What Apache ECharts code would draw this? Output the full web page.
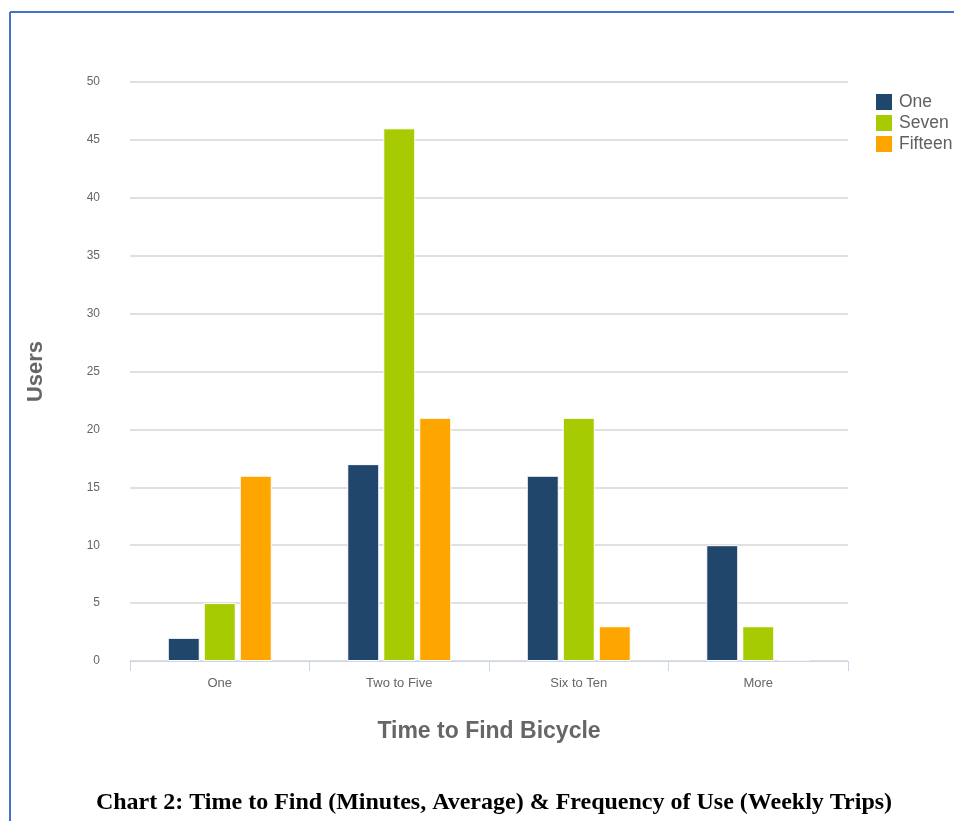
<!DOCTYPE html>
<html>
<head>
<meta charset="utf-8">
<script src="https://cdn.jsdelivr.net/npm/echarts@6/dist/echarts.min.js"></script>
<style>
html,body{margin:0;padding:0;background:#fff;}
#c{width:954px;height:821px;}
</style>
</head>
<body>
<div id="c"></div>
<script>
const categories = ['One', 'Two to Five', 'Six to Ten', 'More'];
const seriesNames = ['One', 'Seven', 'Fifteen'];
const oneValues = [2, 17, 16, 10];
const sevenValues = [5, 46, 21, 3];
const fifteenValues = [16, 21, 3, 0];
const colors = ['#21466c', '#a6cb03', '#ffa500'];
const captionText = 'Chart 2: Time to Find (Minutes, Average) & Frequency of Use (Weekly Trips)';

const chart = echarts.init(document.getElementById('c'));
const values = [oneValues, sevenValues, fifteenValues];
chart.setOption({
  animation: false,
  backgroundColor: '#fff',
  color: colors,
  grid: {left: 130, right: 106, top: 82, bottom: 160},
  legend: {
    orient: 'vertical', left: 869, top: 87,
    itemWidth: 18, itemHeight: 18, itemGap: 1,
    icon: 'rect',
    textStyle: {fontFamily: 'Liberation Sans, Arial', fontSize: 17.5, color: '#606060', padding: [0,0,0,1]},
    data: seriesNames
  },
  xAxis: {
    type: 'category', data: categories, z: 5,
    name: 'Time to Find Bicycle', nameLocation: 'middle', nameGap: 59,
    nameTextStyle: {fontFamily: 'Liberation Sans, Arial', fontSize: 23, fontWeight: 'bold', color: '#666'},
    axisLine: {lineStyle: {color: '#ccd6eb', width: 1}},
    axisTick: {show: true, length: 10, lineStyle: {color: '#ccd6eb'}},
    axisLabel: {fontFamily: 'Liberation Sans, Arial', fontSize: 13, color: '#666', margin: 16}
  },
  yAxis: {
    type: 'value', min: 0, max: 50, interval: 5,
    name: 'Users', nameLocation: 'middle', nameGap: 83,
    nameTextStyle: {fontFamily: 'Liberation Sans, Arial', fontSize: 22, fontWeight: 'bold', color: '#666'},
    axisLine: {show: false}, axisTick: {show: false},
    axisLabel: {fontFamily: 'Liberation Sans, Arial', fontSize: 12, color: '#666', margin: 30},
    splitLine: {lineStyle: {color: '#e0e0e0', width: 2}}
  },
  series: seriesNames.map((n, i) => ({
    name: n, type: 'bar', data: values[i],
    barWidth: 32, barGap: '12.5%',
    itemStyle: {borderColor: '#fff', borderWidth: 1}
  })),
  graphic: [
    {type: 'line', shape: {x1: 10, y1: 12, x2: 954, y2: 12}, style: {stroke: '#4472c4', lineWidth: 2}},
    {type: 'line', shape: {x1: 10, y1: 12, x2: 10, y2: 821}, style: {stroke: '#4472c4', lineWidth: 2}},
    {type: 'text', x: 494, y: 803, style: {text: captionText, textAlign: 'center', textVerticalAlign: 'middle',
      font: 'bold 24px "Liberation Serif", "Times New Roman", serif', fill: '#000'}}
  ]
});
</script>
</body>
</html>
